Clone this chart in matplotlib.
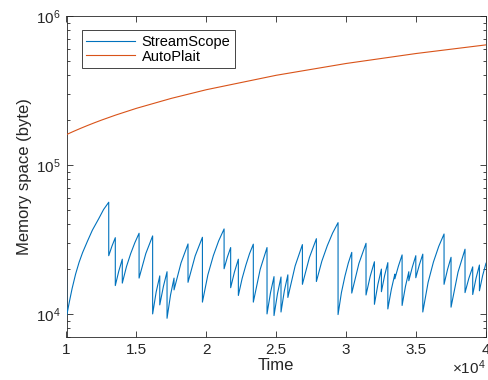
import numpy as np
import matplotlib
matplotlib.use("Agg")
import matplotlib.pyplot as plt
from matplotlib.ticker import LogLocator, NullFormatter, FixedLocator

# ---- data (time in units of 1e4) ----
stream_t = [1.000, 1.002, 1.020, 1.040, 1.065, 1.090, 1.115, 1.150, 1.185, 1.230, 1.265, 1.302,
            1.302, 1.325, 1.349, 1.349, 1.374, 1.399, 1.399, 1.429, 1.459, 1.489, 1.519,
            1.519, 1.567, 1.616, 1.616, 1.641, 1.667, 1.667, 1.693, 1.719, 1.719, 1.744, 1.769,
            1.769, 1.819, 1.869, 1.869, 1.920, 1.972, 1.972, 2.011, 2.050, 2.088, 2.127,
            2.127, 2.150, 2.174, 2.174, 2.201, 2.229, 2.229, 2.256, 2.283, 2.309, 2.336,
            2.336, 2.385, 2.434, 2.434, 2.459, 2.484, 2.484, 2.509, 2.534, 2.534, 2.558, 2.583,
            2.583, 2.635, 2.687, 2.687, 2.737, 2.787, 2.787, 2.826, 2.865, 2.903, 2.942,
            2.942, 2.966, 2.991, 3.015, 3.040, 3.040, 3.091, 3.142, 3.142, 3.172, 3.202,
            3.202, 3.227, 3.252, 3.252, 3.275, 3.298, 3.298, 3.323, 3.348, 3.348, 3.374, 3.400,
            3.400, 3.424, 3.448, 3.448, 3.473, 3.498, 3.498, 3.523, 3.548,
            3.548, 3.586, 3.624, 3.662, 3.700, 3.700, 3.725, 3.750, 3.750, 3.800, 3.850,
            3.850, 3.877, 3.905, 3.905, 3.929, 3.953, 3.953, 3.976, 4.000]
stream_v = [18300, 9800, 12000, 14800, 18500, 22200, 25800, 30800, 36500, 43500, 50200, 56200,
            24600, 28500, 32500, 15500, 19400, 23300, 16100, 20800, 25400, 30100, 34800,
            17400, 25400, 33400, 10000, 14000, 18000, 11500, 15300, 19200, 9350, 13400, 17400,
            14500, 22000, 29500, 16300, 24500, 32700, 12000, 18300, 24600, 30900, 37200,
            20100, 24000, 27900, 15000, 19100, 23300, 13300, 17300, 21300, 25400, 29400,
            12000, 19900, 27900, 10000, 13900, 17800, 9750, 13700, 17700, 10300, 14300, 18300,
            12900, 21000, 29200, 15800, 23900, 32000, 16500, 22600, 28700, 34900, 41000,
            9900, 13900, 17900, 21900, 25900, 13800, 21800, 29800, 13400, 17900, 22400,
            11600, 15800, 20000, 14100, 18100, 22100, 10800, 14600, 18500, 17200, 21000, 24900,
            11400, 15300, 19200, 16700, 20600, 24600, 17500, 21300, 25200,
            10300, 16300, 22300, 28400, 34400, 15800, 19900, 24000, 11100, 19100, 27200,
            13900, 17300, 20700, 13500, 17400, 21300, 14300, 18100, 21900]

autoplait_t = [1.00, 1.05, 1.10, 1.15, 1.20, 1.25, 1.35, 1.50, 1.75, 2.00, 2.50, 3.00, 3.50, 4.00]
autoplait_v = [160000, 168000, 176000, 184000, 192000, 200000, 216000, 240000, 280000,
               320000, 400000, 480000, 560000, 640000]

x_ticks = [1, 1.5, 2, 2.5, 3, 3.5, 4]
x_tick_labels = ["1", "1.5", "2", "2.5", "3", "3.5", "4"]
series_names = ["StreamScope", "AutoPlait"]

plt.rcParams['font.family'] = ['Liberation Sans', 'DejaVu Sans']
plt.rcParams['mathtext.fontset'] = 'custom'
plt.rcParams['mathtext.rm'] = 'Liberation Sans'
plt.rcParams['mathtext.it'] = 'Liberation Sans'

fig = plt.figure(figsize=(4.89, 3.80), dpi=100)
ax = fig.add_axes([66.5/489, 1-337/380, (486-66.5)/489, (337-16)/380])

blue = '#0072BD'
orange = '#D95319'
ax.plot(np.array(stream_t)*1e4, stream_v, color=blue, lw=0.8, label=series_names[0], zorder=3)
ax.plot(np.array(autoplait_t)*1e4, autoplait_v, color=orange, lw=0.8, label=series_names[1], zorder=3)

ax.set_yscale('log')
ax.set_xlim(1e4, 4e4)
ax.set_ylim(7000, 1e6)

axcol = '#262626'
ax.xaxis.set_major_locator(FixedLocator(np.array(x_ticks)*1e4))
ax.set_xticklabels(x_tick_labels)
ax.yaxis.set_major_locator(LogLocator(base=10, numticks=10))
ax.yaxis.set_minor_locator(LogLocator(base=10, subs=np.arange(2, 10), numticks=20))
ax.yaxis.set_minor_formatter(NullFormatter())
ax.tick_params(which='both', direction='in', top=True, right=True, colors=axcol,
               labelsize=11, width=0.6)
ax.tick_params(which='major', length=4.5, pad=4)
ax.tick_params(which='minor', length=2.5)
for s in ax.spines.values():
    s.set_color(axcol)
    s.set_linewidth(0.6)

ax.set_xlabel('Time', fontsize=12, color=axcol, labelpad=1)
ax.set_ylabel('Memory space (byte)', fontsize=12, color=axcol, labelpad=3)
fig.text(486/489, 1-374/380, r'$\times10^{4}$', ha='right', va='baseline',
         fontsize=11, color=axcol)

leg = ax.legend(loc='upper left', bbox_to_anchor=(0.037, 0.955), fontsize=10.5,
                frameon=True, fancybox=False, framealpha=1, edgecolor=axcol,
                handlelength=3.3, borderpad=0.3, labelspacing=0.05, handletextpad=0.5,
                borderaxespad=0)
leg.get_frame().set_linewidth(0.6)

fig.savefig('out.png', dpi=100)
